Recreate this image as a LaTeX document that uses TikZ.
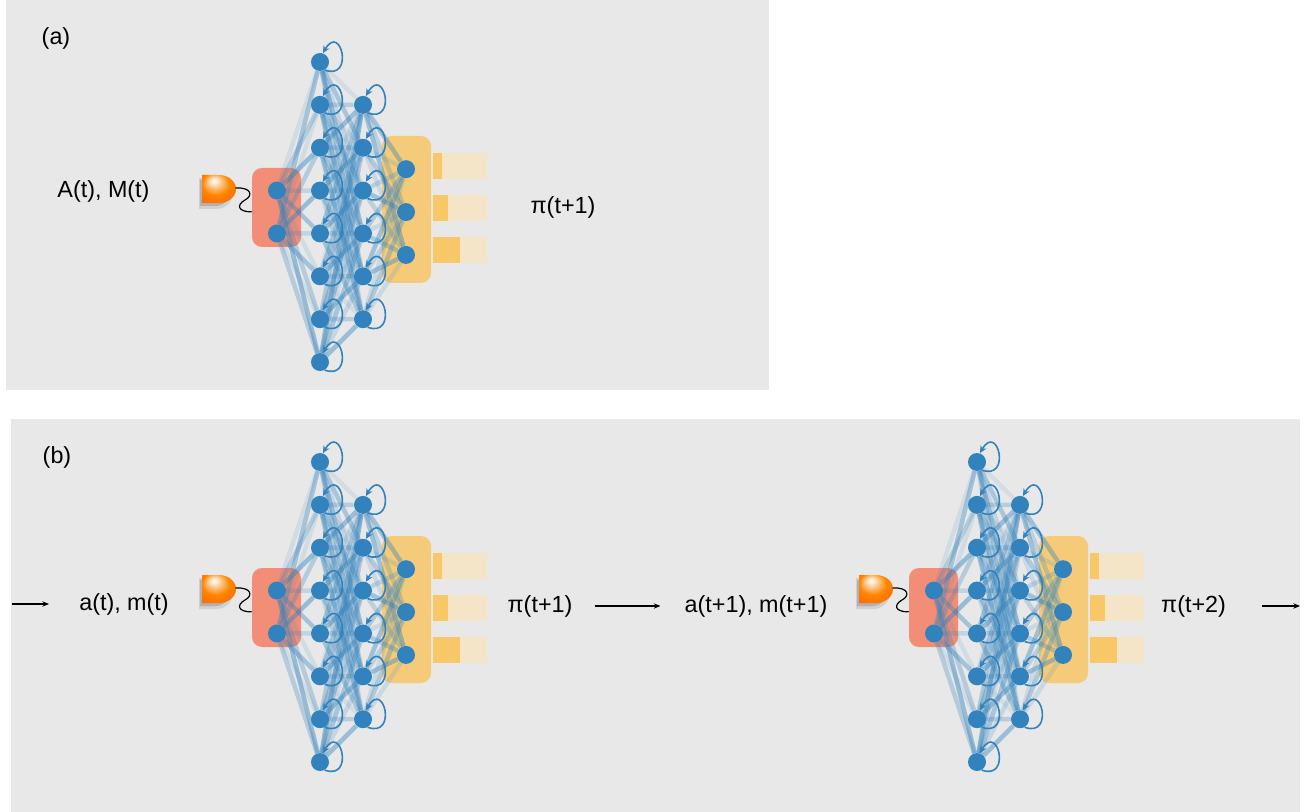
\documentclass[tikz,border=0pt]{standalone}
\usepackage{fontspec}
\setmainfont{Liberation Sans}
\usepackage{xcolor}
\definecolor{nblue}{RGB}{49,130,189}
\definecolor{panelgray}{RGB}{232,232,232}
\definecolor{inred}{RGB}{242,142,120}
\definecolor{outyellow}{RGB}{245,203,122}
\definecolor{bardark}{RGB}{248,200,104}
\definecolor{barlight}{RGB}{244,229,200}
\usetikzlibrary{
    arrows.meta,
    positioning
}
\pgfdeclarelayer{background}
\pgfdeclarelayer{wires}
\pgfsetlayers{background,wires,main}
\pgfdeclareradialshading{detglow}{\pgfpoint{-8bp}{16bp}}{%
    color(0bp)=(white);
    color(6bp)=(orange!25!white);
    color(20bp)=(orange!95!yellow);
    color(38bp)=(orange!80!red);
    color(50bp)=(red!55!black)}

\tikzstyle{neuron} = [
    circle,
    fill=nblue,
    inner sep=0pt,
    minimum size=13.5pt
]
\tikzstyle{weight} = [
    nblue,
    line width=3.4pt
]
\tikzstyle{selfloop} = [
    nblue,
    line width=1.2pt,
    -{Stealth[length=5.5pt,width=5pt]}
]
\tikzstyle{inbox} = [
    rectangle,
    rounded corners=7.5pt,
    fill=inred,
    minimum width=36.75pt,
    minimum height=59.25pt
]
\tikzstyle{outbox} = [
    rectangle,
    rounded corners=7.5pt,
    fill=outyellow,
    minimum width=36.75pt,
    minimum height=110.25pt
]
\tikzstyle{txt} = [
    font=\fontsize{17.5}{21}\selectfont,
    inner sep=0pt
]
\tikzstyle{flow} = [
    line width=0.9pt,
    -{Stealth[length=5pt,width=4pt]}
]

% one network: #1 shift, #2 name prefix
\newcommand{\qnet}[2]{%
\begin{scope}[shift={#1}, name prefix=#2]
\foreach \i in {1,2}
    \node[neuron] (in\i) at (277,{-190.6-42.86*(\i-1)}) {};
\foreach \i in {1,...,8}
    \node[neuron] (h\i) at (320,{-62-42.86*(\i-1)}) {};
\foreach \i in {1,...,6}
    \node[neuron] (g\i) at (363,{-104.9-42.86*(\i-1)}) {};
\foreach \i in {1,2,3}
    \node[neuron] (o\i) at (406,{-169.2-42.86*(\i-1)}) {};

\begin{pgfonlayer}{background}
\node (rbox) [inbox] at (276.5,-207.5) {};
\node (ybox) [outbox] at (406.5,-209.5) {};
\end{pgfonlayer}

\begin{pgfonlayer}{wires}
\foreach \i in {1,2}
    \foreach \j in {1,...,8} {
        \pgfmathsetmacro\op{0.12+0.08*mod(3*\i+2*\j,5)}
        \draw[weight, opacity=\op] (in\i) -- (h\j);
    }
\foreach \i in {1,...,8}
    \foreach \j in {1,...,6} {
        \pgfmathsetmacro\op{0.1+0.08*mod(2*\i+3*\j,5)}
        \draw[weight, opacity=\op] (h\i) -- (g\j);
    }
\foreach \i in {1,...,6}
    \foreach \j in {1,2,3} {
        \pgfmathsetmacro\op{0.15+0.08*mod(\i+2*\j,4)}
        \draw[weight, opacity=\op] (g\i) -- (o\j);
    }
\end{pgfonlayer}

% recurrent loops
\foreach \i in {1,...,8}
    \draw[selfloop] (h\i.-60) .. controls +(-20:32) and +(60:36) .. (h\i.72);
\foreach \i in {1,...,6}
    \draw[selfloop] (g\i.-60) .. controls +(-20:32) and +(60:36) .. (g\i.72);

% output bars
\foreach \y/\w in {153/9,195/15,237/27} {
    \fill[barlight] (433,-\y) rectangle +(54,-26);
    \fill[bardark] (433,-\y) rectangle +(\w,-26);
}

% detector
\fill[black, opacity=0.10] (199,-178) -- (216,-178)
    arc[start angle=90, end angle=-90, x radius=17, y radius=15.5]
    -- (199,-209) -- cycle;
\fill[black, opacity=0.15] (200,-180) -- (215,-180)
    arc[start angle=90, end angle=-90, x radius=15, y radius=13]
    -- (200,-206) -- cycle;
\shade[shading=detglow] (202,-175) -- (219,-175)
    arc[start angle=90, end angle=-90, x radius=17, y radius=14]
    -- (202,-203) -- cycle;
\coordinate (det) at (235.5,-188);
\draw[line width=0.9pt] (det) .. controls (252,-187) and (253,-196) .. (245,-200)
    .. controls (236,-205) and (238,-212) .. (rbox.-170);
\end{scope}}

\begin{document}
\begin{tikzpicture}[x=0.75pt, y=0.75pt]
\useasboundingbox (0,0) rectangle (1308,-812);
\begin{pgfonlayer}{background}
\fill[panelgray] (6,0) rectangle (769,-390);
\fill[panelgray] (11,-419) rectangle (1300,-812);
\end{pgfonlayer}

\qnet{(0,0)}{a-}
\qnet{(0,-400)}{b-}
\qnet{(657,-400)}{c-}

% panel (a)
\node (lblA) [txt] at (56,-38) {(a)};
\node (inA) [txt] at (103.5,-191) {A(t), M(t)};
\node (piA) [txt] at (563,-207) {π(t+1)};

% panel (b)
\node (lblB) [txt] at (57,-457) {(b)};
\coordinate (start) at (12,-604);
\node (in1) [txt] at (124,-604) {a(t), m(t)};
\node (pi1) [txt] at (540,-606) {π(t+1)};
\node (in2) [txt] at (756,-606) {a(t+1), m(t+1)};
\node (pi2) [txt] at (1193.5,-606) {π(t+2)};
\coordinate (stop) at (1300,-606);

\draw [flow, shorten >=22.5pt] (start) -- (start -| in1.west);
\draw [flow, shorten <=16.5pt, shorten >=18pt] (pi1.east) -- (in2.west);
\draw [flow, shorten <=27pt] (pi2.east) -- (stop);

\end{tikzpicture}
\end{document}
